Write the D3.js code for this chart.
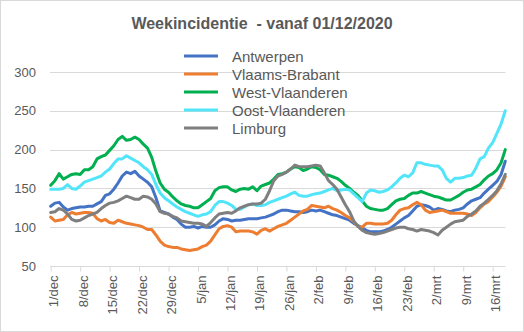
<!DOCTYPE html>
<html>
<head>
<meta charset="utf-8">
<script src="https://cdn.jsdelivr.net/npm/d3@7"></script>
<style>
  html, body { margin: 0; padding: 0; background: #fff; }
  svg { display: block; }
  text { font-family: "Liberation Sans", Arial, sans-serif; fill: #595959; }
</style>
</head>
<body>
<svg id="chart" width="524" height="332"></svg>
<script>
const title = "Weekincidentie  - vanaf 01/12/2020";
const seriesNames = ["Antwerpen", "Vlaams-Brabant", "West-Vlaanderen", "Oost-Vlaanderen", "Limburg"];
const seriesColors = ["#4472C4", "#ED7D31", "#00B050", "#52E5F9", "#7F7F7F"];
const startDate = new Date(2020, 11, 1);
const tickLabels = ["1/dec","8/dec","15/dec","22/dec","29/dec","5/jan","12/jan","19/jan","26/jan","2/feb","9/feb","16/feb","23/feb","2/mrt","9/mrt","16/mrt"];
const yTicks = [50, 100, 150, 200, 250, 300];

const antwerpen = [127,131,132,126,122,124,125,126,126,127,
  127,130,133,141,143,149,157,166,171,169,
  172,166,162,158,152,138,121,119,117,113,
  110,104,100,100,101,99,101,100,100,103,
  108,111,110,108,109,109,110,111,111,111,
  112,113,115,117,120,122,122,121,120,120,
  119,120,122,121,122,120,118,116,115,113,
  111,109,105,102,99,96,94,94,94,95,
  97,100,104,108,112,115,121,127,129,128,
  126,122,124,123,121,120,122,123,125,130,
  134,136,138,144,149,154,159,168,185];
const vlaamsBrabant = [113,108,109,110,116,119,117,118,119,119,
  118,111,108,110,106,105,109,107,105,104,
  103,102,100,97,97,90,82,77,75,74,
  74,72,71,70,71,72,75,77,82,90,
  98,101,102,100,94,95,95,95,94,91,
  96,98,95,98,101,103,105,109,113,117,
  121,123,128,127,126,125,127,124,122,119,
  115,112,107,101,100,105,105,104,104,104,
  105,109,116,122,124,125,129,132,129,122,
  119,120,121,122,120,118,118,118,118,117,
  115,119,125,130,133,139,145,153,165];
const westVlaanderen = [154,160,169,162,165,168,169,168,174,174,
  178,188,191,193,199,205,213,217,212,213,
  216,213,207,202,190,172,157,149,145,139,
  134,130,128,127,125,125,129,133,137,147,
  151,152,152,148,146,149,150,149,152,147,
  153,155,157,162,168,169,171,175,178,177,
  173,175,178,177,174,168,167,165,163,159,
  154,150,145,141,134,127,124,123,122,122,
  124,129,134,136,137,141,144,144,146,144,
  142,140,139,137,135,135,138,141,145,148,
  149,152,155,161,166,169,174,183,200];
const oostVlaanderen = [149,149,149,150,155,150,149,153,158,160,
  162,164,166,171,175,182,188,188,192,189,
  186,183,178,174,168,155,144,138,134,130,
  126,123,120,118,116,114,116,117,120,128,
  133,133,131,128,123,123,126,129,130,128,
  128,129,132,134,136,138,140,143,145,141,
  140,140,142,143,144,146,148,150,147,148,
  149,148,143,138,133,144,148,147,145,146,
  148,152,157,163,167,165,170,183,183,181,
  180,179,179,174,163,158,163,163,164,166,
  167,176,188,191,202,209,221,233,250];
const limburg = [119,120,124,122,117,110,108,109,112,115,
  117,119,124,128,131,132,134,137,140,138,
  136,136,140,139,136,130,120,118,117,114,
  112,108,107,106,105,105,104,101,106,112,
  117,118,119,118,121,125,127,129,130,130,
  131,136,147,160,166,168,171,175,180,178,
  178,178,179,180,179,170,160,155,149,139,
  129,120,108,101,96,93,92,91,92,93,
  95,97,99,100,100,98,97,95,97,96,
  95,93,90,96,100,104,107,108,109,114,
  117,121,127,131,136,141,147,156,168];

const seriesValues = [antwerpen, vlaamsBrabant, westVlaanderen, oostVlaanderen, limburg];
const dates = antwerpen.map((_, i) => new Date(startDate.getFullYear(), startDate.getMonth(), startDate.getDate() + i));
const tickDates = tickLabels.map((_, i) => new Date(startDate.getFullYear(), startDate.getMonth(), startDate.getDate() + 7 * i));

const svg = d3.select("#chart");
const W = 524, H = 332;

svg.append("rect").attr("x", 0.5).attr("y", 0.5).attr("width", W - 1).attr("height", H - 1)
  .attr("fill", "#fff").attr("stroke", "#d9d9d9");

const x = d3.scaleTime().domain([dates[0], dates[dates.length - 1]]).range([50.7, 505.3]);
const y = d3.scaleLinear().domain([50, 300]).range([266, 72]);

// title
svg.append("text").attr("x", 262).attr("y", 29).attr("text-anchor", "middle")
  .attr("xml:space", "preserve").style("white-space", "pre")
  .style("font-size", "16px").style("font-weight", "bold").text(title);

// gridlines
svg.append("g").selectAll("line").data(yTicks).join("line")
  .attr("x1", 50).attr("x2", 505.5)
  .attr("y1", d => Math.round(y(d)) + 0.5).attr("y2", d => Math.round(y(d)) + 0.5)
  .attr("stroke", "#d9d9d9").attr("stroke-width", 1);

// y labels
svg.append("g").selectAll("text").data(yTicks).join("text")
  .attr("x", 36).attr("y", d => y(d)).attr("dy", "0.35em").attr("text-anchor", "end")
  .style("font-size", "13px").text(d => d);

// x axis
const xAxis = d3.axisBottom(x).tickValues(tickDates).tickSize(5).tickFormat((d, i) => tickLabels[i]);
const gx = svg.append("g").attr("transform", "translate(0," + (Math.round(y(50)) + 0.5) + ")").call(xAxis);
gx.select(".domain").remove();
gx.selectAll(".tick line").attr("stroke", "#d9d9d9");
gx.selectAll(".tick text")
  .attr("fill", "#595959")
  .style("font-family", '"Liberation Sans", Arial, sans-serif')
  .style("font-size", "13px")
  .attr("text-anchor", "end")
  .attr("dy", null)
  .attr("y", 0)
  .attr("transform", "translate(7,9) rotate(-90)");

// lines
const line = d3.line().x((d, i) => x(dates[i])).y(d => y(d));
svg.append("g").selectAll("path").data(seriesValues).join("path")
  .attr("d", d => line(d))
  .attr("fill", "none")
  .attr("stroke", (d, i) => seriesColors[i])
  .attr("stroke-width", 3)
  .attr("stroke-linejoin", "round")
  .attr("stroke-linecap", "round");

// legend
const lg = svg.append("g");
seriesNames.forEach((name, i) => {
  const ly = 56 + i * 18;
  lg.append("line").attr("x1", 184).attr("x2", 218).attr("y1", ly).attr("y2", ly)
    .attr("stroke", seriesColors[i]).attr("stroke-width", 3);
  lg.append("text").attr("x", 232).attr("y", ly + 5.5).style("font-size", "15px").text(name);
});
</script>
</body>
</html>
